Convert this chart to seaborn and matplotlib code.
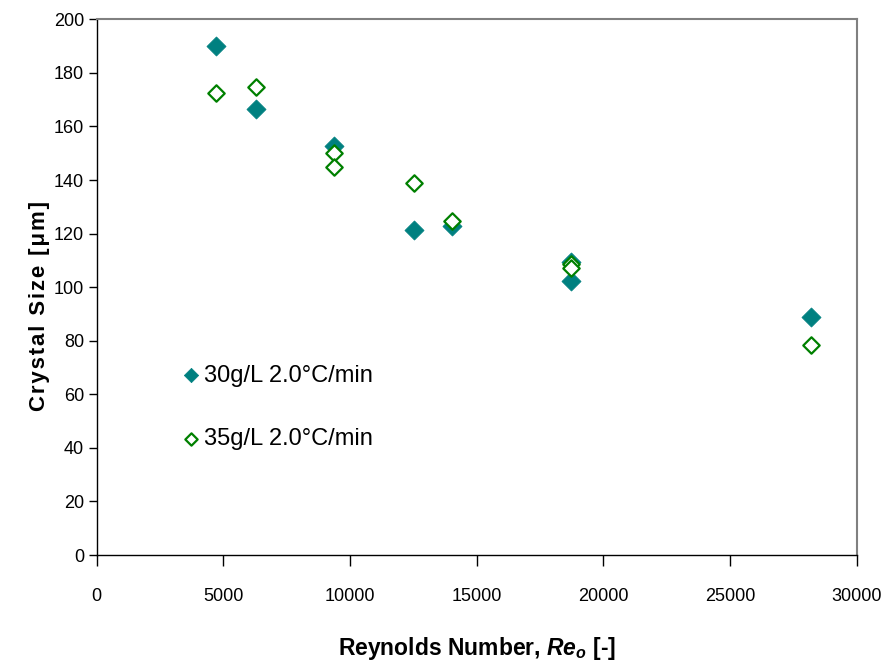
import numpy as np
import pandas as pd
import matplotlib
matplotlib.use('Agg')
import matplotlib.pyplot as plt
import seaborn as sns

# data
re_30 = [4700, 6280, 9370, 12540, 14030, 18740, 18740, 28180]
size_30 = [190, 166.5, 152.6, 121.3, 122.7, 109.3, 102.3, 88.9]

re_35 = [4700, 6280, 9370, 9370, 12540, 14030, 18740, 18740, 28180]
size_35 = [172.3, 174.7, 150.1, 144.9, 138.7, 124.6, 108.5, 107.3, 78.4]

label_30 = '30g/L 2.0°C/min'
label_35 = '35g/L 2.0°C/min'

sns.set_style('white')
plt.rcParams['font.family'] = ['Liberation Sans', 'DejaVu Sans']
plt.rcParams['text.color'] = 'black'
plt.rcParams['axes.labelcolor'] = 'black'
plt.rcParams['mathtext.fontset'] = 'custom'
plt.rcParams['mathtext.bfit'] = 'Liberation Sans:italic:bold'
plt.rcParams['mathtext.rm'] = 'Liberation Sans'

df30 = pd.DataFrame({'Re': re_30, 'size': size_30})
df35 = pd.DataFrame({'Re': re_35, 'size': size_35})

fig = plt.figure(figsize=(8.92, 6.65), dpi=100)
ax = fig.add_axes([0.1084, 0.1654, 0.852, 0.8056])

sns.scatterplot(data=df30, x='Re', y='size', ax=ax, marker='D', s=95,
                color='#008080', edgecolor='#008080', linewidth=0.5, label=label_30, zorder=3)
sns.scatterplot(data=df35, x='Re', y='size', ax=ax, marker='D', s=70,
                facecolor='white', edgecolor='#008000', linewidth=1.6, label=label_35, zorder=4)

ax.set_xlim(0, 30000)
ax.set_ylim(0, 200)
ax.set_xticks(np.arange(0, 30001, 5000))
ax.set_yticks(np.arange(0, 201, 20))
ax.tick_params(axis='both', labelsize=13, colors='black', direction='out', bottom=True, left=True)
ax.tick_params(axis='x', length=8, width=1, pad=16)
ax.tick_params(axis='y', length=6, width=1, pad=3)

for side in ['left', 'bottom']:
    ax.spines[side].set_color('black')
    ax.spines[side].set_linewidth(1)
for side in ['top', 'right']:
    ax.spines[side].set_color('#808080')
    ax.spines[side].set_linewidth(1.5)

ax.set_xlabel(r'Reynolds Number, $\mathbfit{Re}_{\mathbfit{o}}$ [-]', fontsize=16.5,
              fontweight='bold', labelpad=21)
ylab = '\u200a'.join('Crystal Size [μm]')
ax.set_ylabel(ylab, fontsize=16, fontweight='bold')
ax.yaxis.set_label_coords(-0.061, 0.465)

leg = ax.legend(loc='upper left', bbox_to_anchor=(0.08, 0.395), frameon=False,
                prop={'size': 17},
                labelspacing=1.75, handletextpad=0.05, handlelength=1.0, markerscale=0.75)
for t in leg.get_texts():
    t.set_color('black')

fig.savefig('out.png', dpi=100)
